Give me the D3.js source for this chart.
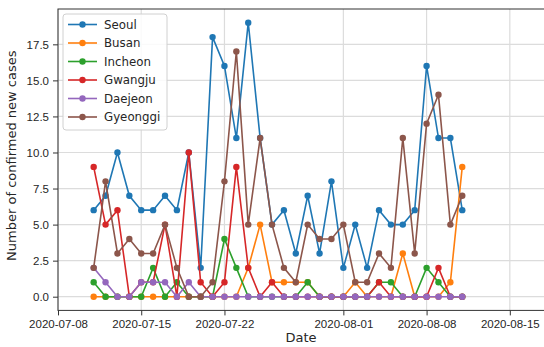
<!DOCTYPE html>
<html>
<head>
<meta charset="utf-8">
<script src="https://cdn.jsdelivr.net/npm/d3@7"></script>
<style>
  html, body { margin: 0; padding: 0; background: #fff; }
  svg { display: block; font-family: "DejaVu Sans", sans-serif; }
</style>
</head>
<body>
<svg id="chart" width="544" height="347"></svg>
<script>
// Daily confirmed new cases per region, 2020-07-11 .. 2020-08-11
const startDate = "2020-07-11";
const regions = ["Seoul", "Busan", "Incheon", "Gwangju", "Daejeon", "Gyeonggi"];
const colors = ["#1f77b4", "#ff7f0e", "#2ca02c", "#d62728", "#9467bd", "#8c564b"];

const seoul    = [6, 7, 10, 7, 6, 6, 7, 6, 10, 2, 18, 16, 11, 19, 11, 5, 6, 3, 7, 3, 8, 2, 5, 2, 6, 5, 5, 6, 16, 11, 11, 6];
const busan    = [0, 0, 0, 0, 0, 0, 0, 0, 0, 0, 0, 0, 0, 2, 5, 1, 1, 1, 1, 0, 0, 0, 1, 0, 0, 0, 3, 0, 0, 0, 1, 9];
const incheon  = [1, 0, 0, 0, 0, 2, 0, 1, 0, 0, 0, 4, 2, 0, 0, 0, 0, 0, 1, 0, 0, 0, 0, 0, 1, 1, 0, 0, 2, 1, 0, 0];
const gwangju  = [9, 5, 6, 0, 1, 1, 5, 0, 10, 1, 0, 1, 9, 2, 0, 1, 0, 0, 0, 0, 0, 0, 0, 0, 1, 0, 0, 0, 0, 2, 0, 0];
const daejeon  = [2, 1, 0, 0, 1, 1, 1, 0, 1, 0, 0, 0, 0, 0, 0, 0, 0, 0, 0, 0, 0, 0, 0, 0, 0, 0, 0, 0, 0, 0, 0, 0];
const gyeonggi = [2, 8, 3, 4, 3, 3, 5, 2, 0, 0, 1, 8, 17, 5, 11, 5, 2, 1, 5, 4, 4, 5, 1, 1, 3, 2, 11, 3, 12, 14, 5, 7];

const seriesValues = [seoul, busan, incheon, gwangju, daejeon, gyeonggi];

const xTickLabels = ["2020-07-08", "2020-07-15", "2020-07-22", "2020-08-01", "2020-08-08", "2020-08-15"];
const yTickValues = [0, 2.5, 5, 7.5, 10, 12.5, 15, 17.5];

const parse = d3.timeParse("%Y-%m-%d");
const day0 = parse(startDate);
const dates = seoul.map((_, i) => d3.timeDay.offset(day0, i));

const svg = d3.select("#chart");
const plotL = 58, plotR = 544, plotT = 9, plotB = 310.4;

const x = d3.scaleTime()
  .domain([parse("2020-07-08"), new Date(2020, 7, 17, 21)])
  .range([plotL, plotR]);
const y = d3.scaleLinear()
  .domain([-0.95, 19.95])
  .range([plotB, plotT]);

// grid
const grid = svg.append("g");
grid.selectAll("line.gx").data(xTickLabels.map(parse)).join("line")
  .attr("x1", d => x(d)).attr("x2", d => x(d))
  .attr("y1", plotT).attr("y2", plotB)
  .attr("stroke", "#dcdcdc").attr("stroke-width", 1.2);
grid.selectAll("line.gy").data(yTickValues).join("line")
  .attr("y1", d => y(d)).attr("y2", d => y(d))
  .attr("x1", plotL).attr("x2", plotR)
  .attr("stroke", "#dcdcdc").attr("stroke-width", 1.2);

// axes
const xAxis = d3.axisBottom(x)
  .tickValues(xTickLabels.map(parse))
  .tickFormat(d3.timeFormat("%Y-%m-%d"))
  .tickSizeOuter(0).tickSize(5).tickPadding(4);
const yAxis = d3.axisLeft(y)
  .tickValues(yTickValues)
  .tickFormat(d3.format(".1f"))
  .tickSizeOuter(0).tickSize(5).tickPadding(4);

const gx = svg.append("g").attr("transform", `translate(0,${plotB})`).call(xAxis);
const gy = svg.append("g").attr("transform", `translate(${plotL},0)`).call(yAxis);
[gx, gy].forEach(g => {
  g.select(".domain").remove();
  g.selectAll(".tick line").attr("stroke", "#333").attr("stroke-width", 1);
  g.selectAll(".tick text").attr("fill", "#262626").style("font-size", "11.5px");
});

// frame
svg.append("rect")
  .attr("x", plotL).attr("y", plotT)
  .attr("width", plotR - plotL + 2).attr("height", plotB - plotT)
  .attr("fill", "none").attr("stroke", "#333").attr("stroke-width", 1);

// series
const line = d3.line().x((d, i) => x(dates[i])).y(d => y(d));
seriesValues.forEach((vals, k) => {
  const g = svg.append("g");
  g.append("path").datum(vals)
    .attr("d", line)
    .attr("fill", "none")
    .attr("stroke", colors[k])
    .attr("stroke-width", 1.6);
  g.selectAll("circle").data(vals).join("circle")
    .attr("cx", (d, i) => x(dates[i]))
    .attr("cy", d => y(d))
    .attr("r", 3.2)
    .attr("fill", colors[k]);
});

// axis labels
svg.append("text")
  .attr("x", (plotL + plotR) / 2).attr("y", 342)
  .attr("text-anchor", "middle")
  .attr("fill", "#262626")
  .style("font-size", "13px")
  .text("Date");
svg.append("text")
  .attr("transform", `translate(16,${(plotT + plotB) / 2 - 4}) rotate(-90)`)
  .attr("text-anchor", "middle")
  .attr("fill", "#262626")
  .style("font-size", "13px")
  .text("Number of confirmed new cases");

// legend
const lg = svg.append("g");
lg.append("rect")
  .attr("x", 63).attr("y", 14).attr("width", 104).attr("height", 116)
  .attr("rx", 3)
  .attr("fill", "#fff").attr("fill-opacity", 0.85)
  .attr("stroke", "#d0d0d0");
regions.forEach((name, k) => {
  const yy = 24.5 + k * 18.5;
  lg.append("line")
    .attr("x1", 68).attr("x2", 97).attr("y1", yy).attr("y2", yy)
    .attr("stroke", colors[k]).attr("stroke-width", 1.6);
  lg.append("circle").attr("cx", 82.5).attr("cy", yy).attr("r", 3.2).attr("fill", colors[k]);
  lg.append("text")
    .attr("x", 104).attr("y", yy).attr("dy", "0.36em")
    .attr("fill", "#262626")
    .style("font-size", "11.8px")
    .text(name);
});
</script>
</body>
</html>
